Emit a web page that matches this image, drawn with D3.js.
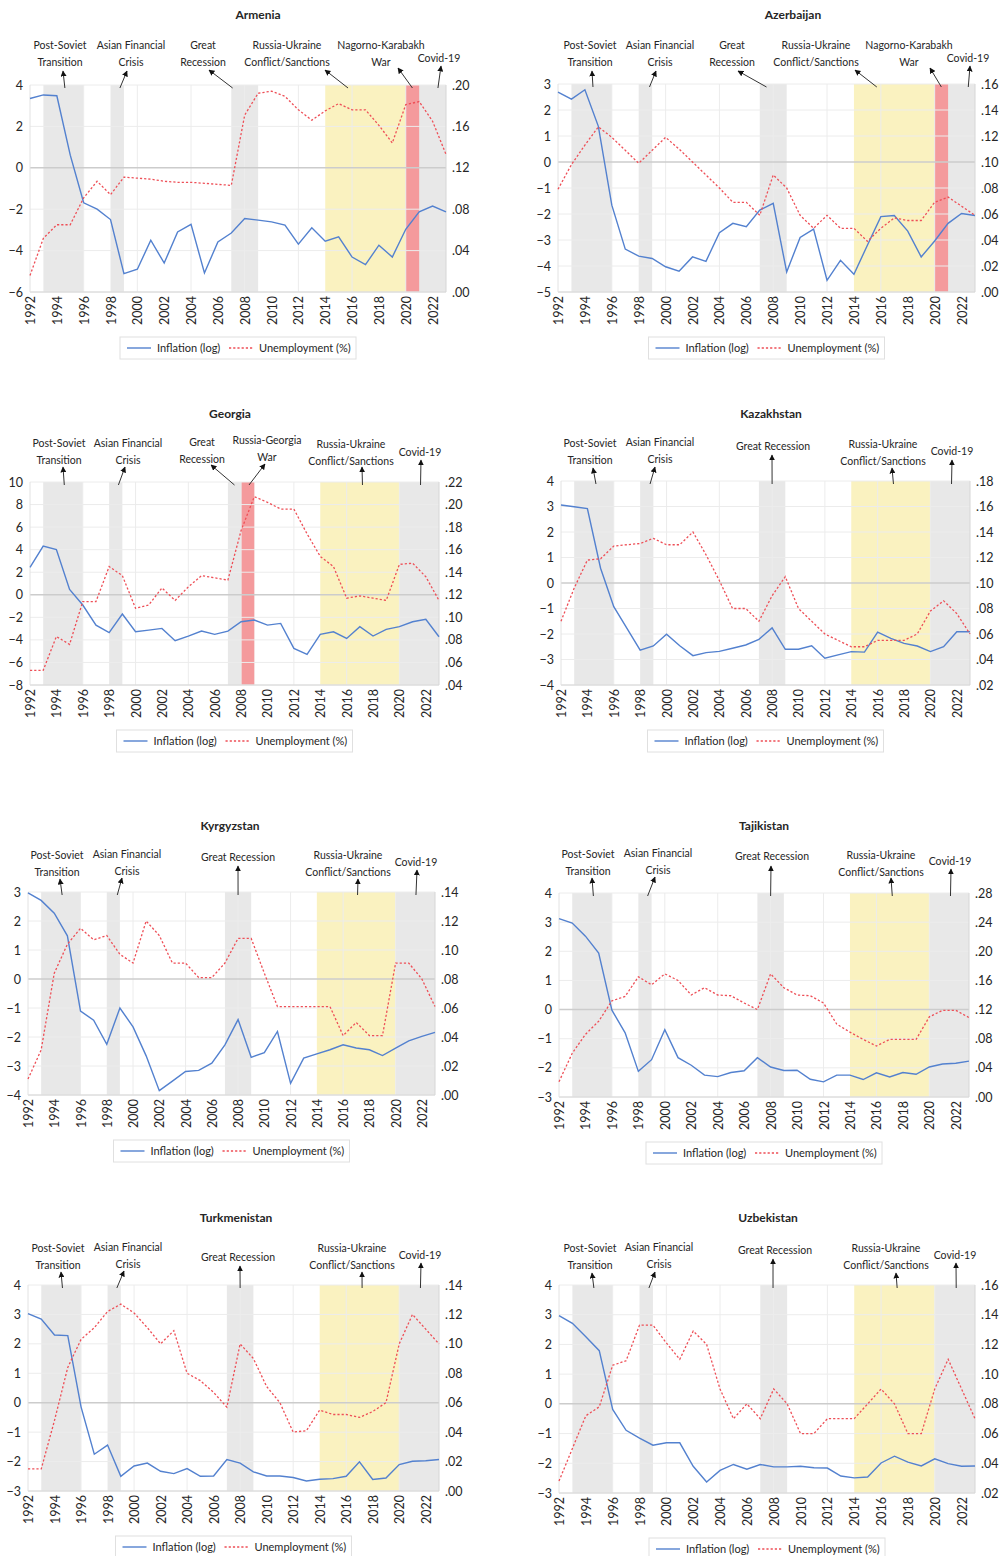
<!DOCTYPE html>
<html><head><meta charset="utf-8">
<script src="https://cdn.jsdelivr.net/npm/d3@7"></script>
<style>
body{margin:0;background:#fff}
svg{display:block}
text{font-family:Lato,"Liberation Sans",sans-serif;fill:#262626}
</style></head>
<body><svg id="chart" width="1006" height="1556"></svg>
<script>
// ---------- DATA ----------
const years = [1992,1993,1994,1995,1996,1997,1998,1999,2000,2001,2002,2003,2004,2005,2006,2007,2008,2009,2010,2011,2012,2013,2014,2015,2016,2017,2018,2019,2020,2021,2022,2023];
const yearTicks = [1992,1994,1996,1998,2000,2002,2004,2006,2008,2010,2012,2014,2016,2018,2020,2022];
const yearGrid = [1996,2000,2004,2008,2012,2016,2020];

const armeniaInflation = [3.35,3.52,3.48,0.61,-1.69,-2.0,-2.5,-5.11,-4.9,-3.5,-4.6,-3.1,-2.73,-5.08,-3.58,-3.15,-2.45,-2.53,-2.61,-2.77,-3.69,-2.9,-3.55,-3.34,-4.31,-4.68,-3.74,-4.31,-2.97,-2.13,-1.85,-2.13];
const armeniaUnemployment = [0.016,0.052,0.065,0.065,0.091,0.107,0.094,0.111,0.110,0.109,0.107,0.106,0.106,0.105,0.104,0.103,0.171,0.192,0.194,0.189,0.176,0.166,0.175,0.182,0.176,0.176,0.161,0.144,0.181,0.184,0.165,0.133];
const azerbaijanInflation = [2.69,2.42,2.78,1.37,-1.66,-3.35,-3.62,-3.71,-4.03,-4.2,-3.65,-3.82,-2.72,-2.36,-2.49,-1.85,-1.59,-4.23,-2.9,-2.58,-4.55,-3.78,-4.32,-3.2,-2.1,-2.06,-2.66,-3.65,-3.04,-2.36,-1.98,-2.06];
const azerbaijanUnemployment = [0.079,0.098,0.113,0.127,0.119,0.109,0.099,0.109,0.119,0.110,0.100,0.090,0.080,0.069,0.069,0.059,0.090,0.080,0.059,0.049,0.059,0.049,0.049,0.039,0.049,0.057,0.055,0.055,0.069,0.073,0.066,0.059];
const georgiaInflation = [2.42,4.31,4.01,0.47,-0.91,-2.69,-3.36,-1.71,-3.28,-3.13,-2.98,-4.07,-3.66,-3.22,-3.51,-3.22,-2.39,-2.24,-2.69,-2.54,-4.75,-5.28,-3.51,-3.28,-3.87,-2.83,-3.66,-3.07,-2.83,-2.39,-2.18,-3.72];
const georgiaUnemployment = [0.053,0.053,0.083,0.076,0.114,0.114,0.145,0.137,0.108,0.111,0.126,0.115,0.127,0.137,0.135,0.133,0.177,0.207,0.202,0.196,0.196,0.174,0.154,0.145,0.117,0.119,0.117,0.115,0.147,0.148,0.136,0.115];
const kazakhstanInflation = [3.06,2.99,2.92,0.58,-0.93,-1.78,-2.63,-2.47,-2.01,-2.46,-2.85,-2.73,-2.68,-2.56,-2.43,-2.21,-1.76,-2.6,-2.6,-2.46,-2.95,-2.82,-2.69,-2.71,-1.93,-2.17,-2.37,-2.47,-2.69,-2.5,-1.91,-1.91];
const kazakhstanUnemployment = [0.070,0.096,0.118,0.119,0.129,0.130,0.131,0.135,0.130,0.130,0.140,0.122,0.102,0.080,0.080,0.070,0.090,0.105,0.080,0.070,0.060,0.055,0.050,0.050,0.055,0.055,0.055,0.060,0.078,0.086,0.076,0.060];
const kyrgyzstanInflation = [2.97,2.71,2.27,1.49,-1.11,-1.42,-2.25,-1.0,-1.65,-2.65,-3.85,-3.52,-3.19,-3.15,-2.9,-2.27,-1.4,-2.7,-2.54,-1.81,-3.6,-2.73,-2.58,-2.44,-2.27,-2.38,-2.44,-2.64,-2.38,-2.13,-1.98,-1.84];
const kyrgyzstanUnemployment = [0.011,0.031,0.084,0.104,0.115,0.107,0.110,0.097,0.091,0.120,0.110,0.091,0.091,0.081,0.081,0.091,0.108,0.108,0.084,0.061,0.061,0.061,0.061,0.061,0.041,0.050,0.041,0.041,0.091,0.091,0.080,0.061];
const tajikistanInflation = [3.12,2.97,2.52,1.94,-0.02,-0.8,-2.12,-1.72,-0.69,-1.65,-1.91,-2.25,-2.3,-2.16,-2.1,-1.65,-1.97,-2.09,-2.08,-2.39,-2.48,-2.25,-2.25,-2.4,-2.17,-2.31,-2.16,-2.22,-1.97,-1.87,-1.84,-1.77];
const tajikistanUnemployment = [0.021,0.060,0.086,0.104,0.132,0.138,0.165,0.154,0.169,0.160,0.140,0.150,0.140,0.139,0.129,0.120,0.169,0.150,0.140,0.139,0.129,0.100,0.089,0.079,0.070,0.079,0.079,0.079,0.110,0.119,0.119,0.109];
const turkmenistanInflation = [3.03,2.84,2.3,2.28,-0.14,-1.75,-1.44,-2.5,-2.15,-2.05,-2.33,-2.41,-2.24,-2.5,-2.49,-1.93,-2.05,-2.35,-2.49,-2.49,-2.54,-2.66,-2.6,-2.58,-2.5,-2.01,-2.61,-2.56,-2.1,-1.99,-1.97,-1.93];
const turkmenistanUnemployment = [0.015,0.015,0.048,0.084,0.103,0.111,0.122,0.127,0.121,0.111,0.100,0.109,0.080,0.075,0.067,0.057,0.100,0.090,0.071,0.060,0.040,0.041,0.055,0.052,0.052,0.050,0.054,0.060,0.100,0.120,0.110,0.100];
const uzbekistanInflation = [2.97,2.71,2.26,1.79,-0.19,-0.89,-1.15,-1.39,-1.31,-1.31,-2.1,-2.63,-2.24,-2.04,-2.2,-2.04,-2.12,-2.12,-2.1,-2.15,-2.16,-2.43,-2.49,-2.46,-1.99,-1.76,-1.96,-2.09,-1.85,-2.01,-2.1,-2.09];
const uzbekistanUnemployment = [0.028,0.050,0.072,0.078,0.106,0.109,0.133,0.133,0.121,0.110,0.129,0.120,0.090,0.070,0.080,0.070,0.090,0.080,0.060,0.060,0.070,0.070,0.070,0.080,0.090,0.080,0.060,0.060,0.090,0.110,0.090,0.070];

// event periods (start year, end year, kind)
const eventPostSoviet = {from:1993, to:1996, kind:"crisis"};
const eventAsian = {from:1998, to:1999, kind:"crisis"};
const eventGreatRecession = {from:2007, to:2009, kind:"crisis"};
const eventCovid = {from:2020, to:2023, kind:"crisis"};
const eventRussiaUkraine = {from:2014, to:2020, kind:"conflict"};
const eventKarabakh = {from:2020, to:2021, kind:"war"};
const eventGeorgiaWar = {from:2008, to:2009, kind:"war"};
const baseEvents = [eventPostSoviet, eventAsian, eventGreatRecession, eventCovid, eventRussiaUkraine];

const seriesNames = ["Inflation (log)", "Unemployment (%)"];

// ---------- LAYOUT / STYLE ----------
const bandColor = {crisis:"#e8e8e8", conflict:"#faf2c0", war:"#f49a9c"};
const kindOrder = {crisis:0, conflict:1, war:2};
const blue = "#5381cf", red = "#ee4f57";
const PS = ["Post-Soviet","Transition"], AFC = ["Asian Financial","Crisis"], GR2 = ["Great","Recession"], GR1 = ["Great Recession"],
      RU = ["Russia-Ukraine","Conflict/Sanctions"], COV = ["Covid-19"];

const panels = [
 {name:"Armenia", inf:armeniaInflation, un:armeniaUnemployment, events:[...baseEvents, eventKarabakh],
  plot:{l:30,r:446,t:85,b:292}, leftTicks:[-6,-4,-2,0,2,4], rightTicks:[0,.04,.08,.12,.16,.20], title:[258,19],
  notes:[{lines:PS,x:60,y:49,tail:1994.6,head:[63,71]},{lines:AFC,x:131,y:49,tail:1998.7,head:[127,71]},
         {lines:GR2,x:203,y:49,tail:2007.1,head:[209,70]},{lines:RU,x:287,y:49,tail:2015.7,head:[325,70]},
         {lines:["Nagorno-Karabakh","War"],x:381,y:49,tail:2020.5,head:[398,68]},{lines:COV,x:439,y:62,tail:2022.4,head:[441,66]}]},
 {name:"Azerbaijan", inf:azerbaijanInflation, un:azerbaijanUnemployment, events:[...baseEvents, eventKarabakh],
  plot:{l:558,r:975,t:84,b:292}, leftTicks:[-5,-4,-3,-2,-1,0,1,2,3], rightTicks:[0,.02,.04,.06,.08,.10,.12,.14,.16], title:[793,19],
  notes:[{lines:PS,x:590,y:49,tail:1994.6,head:[592,71]},{lines:AFC,x:660,y:49,tail:1998.8,head:[656,71]},
         {lines:GR2,x:732,y:49,tail:2007.5,head:[738,71]},{lines:RU,x:816,y:49,tail:2015.7,head:[855,70]},
         {lines:["Nagorno-Karabakh","War"],x:909,y:49,tail:2020.5,head:[930,68]},{lines:COV,x:968,y:62,tail:2022.5,head:[970,66]}]},
 {name:"Georgia", inf:georgiaInflation, un:georgiaUnemployment, events:[...baseEvents, eventGeorgiaWar],
  plot:{l:30,r:439,t:482,b:685}, leftTicks:[-8,-6,-4,-2,0,2,4,6,8,10], rightTicks:[.04,.06,.08,.10,.12,.14,.16,.18,.20,.22], title:[230,418],
  notes:[{lines:PS,x:59,y:447,tail:1994.6,head:[63,467]},{lines:AFC,x:128,y:447,tail:1998.7,head:[125,467]},
         {lines:GR2,x:202,y:446,tail:2007.5,head:[211,465]},{lines:["Russia-Georgia","War"],x:267,y:444,tail:2008.6,head:[265,464]},
         {lines:RU,x:351,y:448,tail:2017.2,head:[362,467]},{lines:COV,x:420,y:456,tail:2021.6,head:[421,460]}]},
 {name:"Kazakhstan", inf:kazakhstanInflation, un:kazakhstanUnemployment, events:baseEvents,
  plot:{l:561,r:970,t:481,b:685}, leftTicks:[-4,-3,-2,-1,0,1,2,3,4], rightTicks:[.02,.04,.06,.08,.10,.12,.14,.16,.18], title:[771,418],
  notes:[{lines:PS,x:590,y:447,tail:1994.65,head:[593,468]},{lines:AFC,x:660,y:446,tail:1998.75,head:[655,467]},
         {lines:GR1,x:773,y:450,tail:2008.0,head:[772,455]},{lines:RU,x:883,y:448,tail:2017.2,head:[892,468]},
         {lines:COV,x:952,y:455,tail:2021.6,head:[952,460]}]},
 {name:"Kyrgyzstan", inf:kyrgyzstanInflation, un:kyrgyzstanUnemployment, events:baseEvents,
  plot:{l:28,r:435,t:892,b:1095}, leftTicks:[-4,-3,-2,-1,0,1,2,3], rightTicks:[0,.02,.04,.06,.08,.10,.12,.14], title:[230,830],
  notes:[{lines:PS,x:57,y:859,tail:1994.6,head:[60,879]},{lines:AFC,x:127,y:858,tail:1998.8,head:[122,878]},
         {lines:GR1,x:238,y:861,tail:2008.0,head:[238,866]},{lines:RU,x:348,y:859,tail:2017.1,head:[358,879]},
         {lines:COV,x:416,y:866,tail:2021.55,head:[417,870]}]},
 {name:"Tajikistan", inf:tajikistanInflation, un:tajikistanUnemployment, events:baseEvents,
  plot:{l:559,r:969,t:893,b:1097}, leftTicks:[-3,-2,-1,0,1,2,3,4], rightTicks:[0,.04,.08,.12,.16,.20,.24,.28], title:[764,830],
  notes:[{lines:PS,x:588,y:858,tail:1994.6,head:[592,878]},{lines:AFC,x:658,y:857,tail:1998.7,head:[655,877]},
         {lines:GR1,x:772,y:860,tail:2008.0,head:[771,866]},{lines:RU,x:881,y:859,tail:2017.2,head:[891,878]},
         {lines:COV,x:950,y:865,tail:2021.6,head:[951,869]}]},
 {name:"Turkmenistan", inf:turkmenistanInflation, un:turkmenistanUnemployment, events:baseEvents,
  plot:{l:28,r:439,t:1285,b:1491}, leftTicks:[-3,-2,-1,0,1,2,3,4], rightTicks:[0,.02,.04,.06,.08,.10,.12,.14], title:[236,1222],
  notes:[{lines:PS,x:58,y:1252,tail:1994.6,head:[61,1272]},{lines:AFC,x:128,y:1251,tail:1998.7,head:[124,1271]},
         {lines:GR1,x:238,y:1261,tail:2008.0,head:[240,1266]},{lines:RU,x:352,y:1252,tail:2017.2,head:[362,1272]},
         {lines:COV,x:420,y:1259,tail:2021.6,head:[421,1263]}]},
 {name:"Uzbekistan", inf:uzbekistanInflation, un:uzbekistanUnemployment, events:baseEvents,
  plot:{l:559,r:975,t:1285,b:1493}, leftTicks:[-3,-2,-1,0,1,2,3,4], rightTicks:[.02,.04,.06,.08,.10,.12,.14,.16], title:[768,1222],
  notes:[{lines:PS,x:590,y:1252,tail:1994.6,head:[592,1273]},{lines:AFC,x:659,y:1251,tail:1998.7,head:[655,1272]},
         {lines:GR1,x:775,y:1254,tail:2007.95,head:[773,1259]},{lines:RU,x:886,y:1252,tail:2017.2,head:[896,1273]},
         {lines:COV,x:955,y:1259,tail:2021.6,head:[956,1263]}]}
];

// ---------- DRAW ----------
const svg = d3.select("#chart");
svg.append("defs").append("marker").attr("id","arrow").attr("viewBox","0 0 10 10")
  .attr("refX",9).attr("refY",5).attr("markerWidth",6).attr("markerHeight",6)
  .attr("markerUnits","userSpaceOnUse").attr("orient","auto")
  .append("path").attr("d","M0,0L10,5L0,10Z").attr("fill","#111");

const fmtRight = d => d3.format(".2f")(d).replace(/^0/, "");

panels.forEach(p => {
  const P = p.plot;
  const g = svg.append("g");
  const x = d3.scaleLinear().domain(d3.extent(years)).range([P.l, P.r]);
  const yL = d3.scaleLinear().domain(d3.extent(p.leftTicks)).range([P.b, P.t]);
  const yR = d3.scaleLinear().domain(d3.extent(p.rightTicks)).range([P.b, P.t]);

  // bands
  const bands = p.events.slice().sort((a,b) => kindOrder[a.kind] - kindOrder[b.kind]);
  g.selectAll("rect.band").data(bands).join("rect").attr("class","band")
    .attr("x", d => x(d.from)).attr("width", d => x(d.to) - x(d.from))
    .attr("y", P.t).attr("height", P.b - P.t).attr("fill", d => bandColor[d.kind]);

  // grid
  g.selectAll("line.hg").data(p.leftTicks.filter(v => v !== 0)).join("line").attr("class","hg")
    .attr("x1", P.l).attr("x2", P.r).attr("y1", d => yL(d)).attr("y2", d => yL(d))
    .attr("stroke", "#ececec").attr("stroke-width", 1);
  g.selectAll("line.vg").data(yearGrid).join("line").attr("class","vg")
    .attr("x1", d => x(d)).attr("x2", d => x(d)).attr("y1", P.t).attr("y2", P.b)
    .attr("stroke", "#ececec").attr("stroke-width", 1);
  g.append("line").attr("x1", P.l).attr("x2", P.r).attr("y1", yL(0)).attr("y2", yL(0))
    .attr("stroke", "#cccccc").attr("stroke-width", 1.5);

  // axis frame lines
  g.append("line").attr("x1", P.l).attr("x2", P.r).attr("y1", P.b).attr("y2", P.b).attr("stroke","#d6d6d6");
  g.append("line").attr("x1", P.l).attr("x2", P.l).attr("y1", P.t).attr("y2", P.b).attr("stroke","#e2e2e2");
  g.append("line").attr("x1", P.r).attr("x2", P.r).attr("y1", P.t).attr("y2", P.b).attr("stroke","#d6d6d6");

  // axes
  const axL = g.append("g").attr("transform", `translate(${P.l},0)`)
    .call(d3.axisLeft(yL).tickValues(p.leftTicks).tickSize(0).tickPadding(7).tickFormat(d3.format("d")));
  const axR = g.append("g").attr("transform", `translate(${P.r},0)`)
    .call(d3.axisRight(yR).tickValues(p.rightTicks).tickSize(0).tickPadding(6).tickFormat(fmtRight));
  const axB = g.append("g").attr("transform", `translate(0,${P.b})`)
    .call(d3.axisBottom(x).tickValues(yearTicks).tickSize(0).tickFormat(d3.format("d")));
  [axL, axR, axB].forEach(a => { a.select(".domain").remove();
    a.selectAll("text").style("font-family","Lato").style("font-size","12.5px").attr("fill","#1e1e1e"); });
  axB.selectAll("text").attr("transform","rotate(-90)").attr("x",-4).attr("y",0).attr("dy","0.36em")
    .style("text-anchor","end");

  // series
  const lineInf = d3.line().x((d,i) => x(years[i])).y(d => yL(d));
  const lineUn = d3.line().x((d,i) => x(years[i])).y(d => yR(d));
  g.append("path").datum(p.inf).attr("d", lineInf).attr("fill","none").attr("stroke", blue).attr("stroke-width",1.4);
  g.append("path").datum(p.un).attr("d", lineUn).attr("fill","none").attr("stroke", red)
    .attr("stroke-width",1.3).attr("stroke-dasharray","2.2,2");

  // title
  g.append("text").attr("x", p.title[0]).attr("y", p.title[1]).attr("text-anchor","middle")
    .style("font-size","12px").style("font-weight","bold").attr("fill","#262626").text(p.name);

  // annotations
  p.notes.forEach(n => {
    const t = g.append("text").attr("text-anchor","middle").style("font-size","10.5px").attr("fill","#262626");
    n.lines.forEach((s,i) => t.append("tspan").attr("x", n.x).attr("y", n.y + i*16.5).text(s));
    g.append("line").attr("x1", x(n.tail)).attr("y1", P.t + 3).attr("x2", n.head[0]).attr("y2", n.head[1])
      .attr("stroke","#333").attr("stroke-width",1).attr("marker-end","url(#arrow)");
  });

  // legend
  const cx = (P.l + P.r) / 2;
  const lg = g.append("g").attr("transform", `translate(${cx - 118},${P.b + 45})`);
  lg.append("rect").attr("width",236).attr("height",22).attr("fill","#fff").attr("stroke","#e0e0e0");
  lg.append("line").attr("x1",7).attr("x2",31).attr("y1",11).attr("y2",11).attr("stroke",blue).attr("stroke-width",1.4);
  lg.append("text").attr("x",37).attr("y",15).style("font-size","11px").attr("fill","#262626").text(seriesNames[0]);
  lg.append("line").attr("x1",109).attr("x2",133).attr("y1",11).attr("y2",11).attr("stroke",red)
    .attr("stroke-width",1.3).attr("stroke-dasharray","2.2,2");
  lg.append("text").attr("x",139).attr("y",15).style("font-size","11px").attr("fill","#262626").text(seriesNames[1]);
});
</script></body></html>
